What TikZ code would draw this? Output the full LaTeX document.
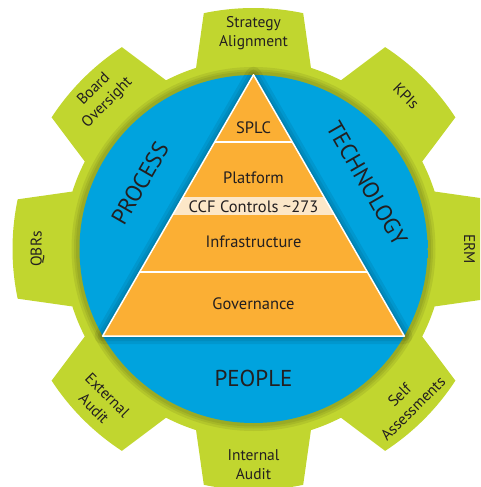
\documentclass[tikz,border=0pt]{standalone}
\usepackage{fontspec}
\setmainfont{PT Sans}
\usetikzlibrary{calc}
\definecolor{gearGreen}{RGB}{193,214,47}
\definecolor{ringBlue}{RGB}{0,163,222}
\definecolor{ringBlueDark}{RGB}{0,80,128}
\definecolor{pyrOrange}{RGB}{251,175,52}
\definecolor{pyrCream}{RGB}{252,231,200}
\definecolor{labelGray}{RGB}{35,31,32}
\pgfdeclareradialshading{ringshade}{\pgfpoint{0bp}{0bp}}{color(0bp)=(ringBlue); color(45bp)=(ringBlue); color(50bp)=(ringBlueDark)}
\tikzset{
	tooth label/.style={text=labelGray,font=\fontsize{15.5}{19}\selectfont,align=center},
	ring label/.style={text=labelGray,font=\fontsize{23}{27}\selectfont},
	band label/.style={text=labelGray,font=\fontsize{16.5}{19}\selectfont},
	soft shadow/.style={black,opacity=.07,line join=round},
}

\begin{document}
\begin{tikzpicture}[x=1pt,y=1pt]
	\useasboundingbox (-253.5,-238) rectangle (226.5,249);
	\clip (-253.5,-238) rectangle (226.5,249);
	% gear with eight teeth
	\fill[gearGreen] (-17.6:190) \foreach \a in {0,45,...,315}{
		-- (\a-17.6:190) -- (\a-11.9:241)
		arc[start angle=\a-11.9,end angle=\a+11.9,radius=241]
		-- (\a+17.6:190)
		arc[start angle=\a+17.6,end angle=\a+27.4,radius=190]} -- cycle;
	\foreach \w in {14,9,5}
		\draw[soft shadow,line width=\w] (0,0) circle[radius=175];
	\node[circle,shading=ringshade,minimum size=348,inner sep=0] (ring) at (0,0) {};
	\coordinate (top) at (ring.90);
	\coordinate (left) at (ring.210);
	\coordinate (right) at (ring.330);
	% pyramid
	\foreach \w in {16,10,5}
		\draw[soft shadow,line width=\w] (top) -- (left) -- (right) -- cycle;
	\fill[pyrOrange] (top) -- (left) -- (right) -- cycle;
	\begin{scope}
		\clip (top) -- (left) -- (right) -- cycle;
		\fill[pyrCream] (-170,34) rectangle (170,52);
		\draw[white,line width=2] (-170,107) -- (170,107);
		\draw[white,line width=2] (-170,-23) -- (170,-23);
	\end{scope}
	\draw[white,line width=1.5,line join=round] (top) -- (left) -- (right) -- cycle;
	\node[band label] (splc) at (0,121) {SPLC};
	\node[band label] (platform) at (0,71) {Platform};
	\node[band label] (ccf) at (0,42.5) {CCF Controls \textasciitilde273};
	\node[band label] (infra) at (0,7) {Infrastructure};
	\node[band label] (gov) at (0,-55) {Governance};
	% ring texts
	\node[ring label,rotate=60] (process) at (150:131) {PROCESS};
	\node[ring label,rotate=-60] (technology) at (30:131) {TECHNOLOGY};
	\node[ring label] (people) at (-90:129) {PEOPLE};
	% tooth texts
	\node[tooth label] (strategy) at (90:216) {Strategy\\Alignment};
	\node[tooth label,rotate=-45] (kpis) at (45:216) {KPIs};
	\node[tooth label,rotate=-90] (erm) at (0:216) {ERM};
	\node[tooth label,rotate=45] (self) at (-45:216) {Self\\Assessments};
	\node[tooth label] (internal) at (-90:216) {Internal\\Audit};
	\node[tooth label,rotate=-45] (external) at (-135:216) {External\\Audit};
	\node[tooth label,rotate=90] (qbrs) at (180:216) {QBRs};
	\node[tooth label,rotate=45] (board) at (135:216) {Board\\Oversight};
\end{tikzpicture}
\end{document}
